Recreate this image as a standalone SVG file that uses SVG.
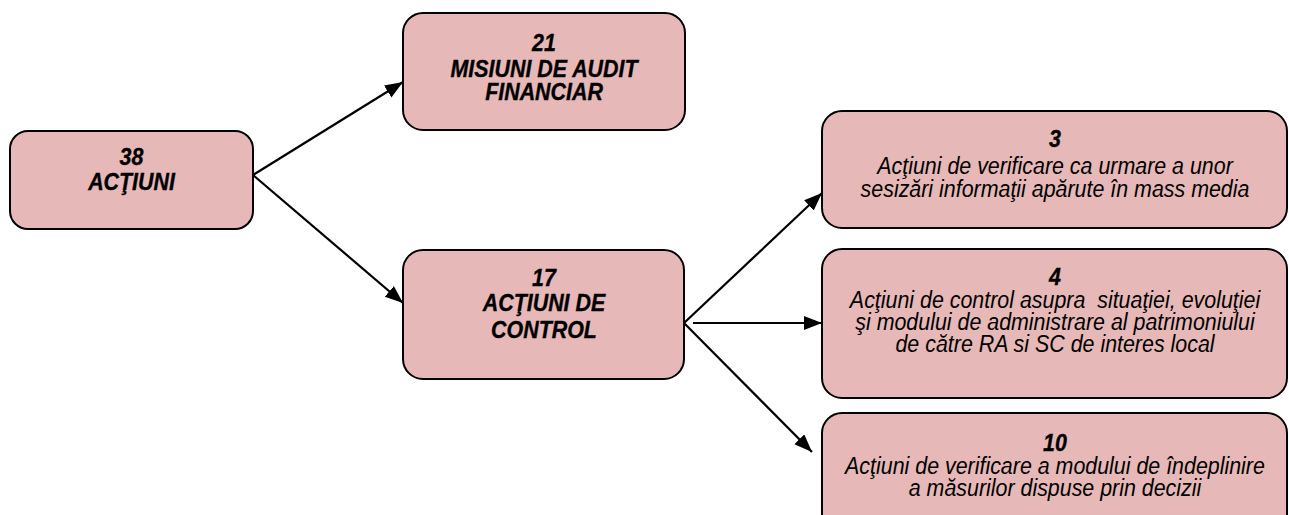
<svg xmlns="http://www.w3.org/2000/svg" width="1289" height="515" viewBox="0 0 1289 515">
<style>
.box{fill:#E6B8B7;stroke:#000;stroke-width:2}
.t{font-family:"Liberation Sans",Arial,sans-serif;font-size:21.4px;font-style:italic;text-anchor:middle;fill:#000;white-space:pre}
.b{font-weight:bold;stroke:#000;stroke-width:0.3}
.c{stroke:#000;stroke-width:2.2;fill:none;marker-end:url(#ah)}
</style>
<defs>
<marker id="ah" markerUnits="userSpaceOnUse" markerWidth="20" markerHeight="16" refX="18" refY="7" orient="auto">
<path d="M0,0 L18,7 L0,14 z" fill="#000"/>
</marker>
</defs>
<g id="connectors">
<line class="c" x1="253" y1="175" x2="403" y2="82"/>
<line class="c" x1="253" y1="175" x2="403" y2="303"/>
<line class="c" x1="684" y1="323" x2="822" y2="193"/>
<line class="c" x1="693" y1="323" x2="822" y2="323"/>
<line class="c" x1="684" y1="323" x2="812" y2="452"/>
</g>
<g id="n38">
<rect class="box" x="10" y="131" width="243" height="98" rx="18"/>
<text class="t b" transform="matrix(1,0,0,1.08,131.5,165)">38</text>
<text class="t b" transform="matrix(1,0,0,1.08,131.5,190)">ACŢIUNI</text>
</g>
<g id="n21">
<rect class="box" x="403" y="13" width="282" height="117" rx="20"/>
<text class="t b" transform="matrix(1,0,0,1.08,544,51)">21</text>
<text class="t b" transform="matrix(1,0,0,1.08,544,77)">MISIUNI DE AUDIT</text>
<text class="t b" transform="matrix(1,0,0,1.08,544,100)">FINANCIAR</text>
</g>
<g id="n17">
<rect class="box" x="403" y="250" width="281" height="129" rx="20"/>
<text class="t b" transform="matrix(1,0,0,1.08,544,286)">17</text>
<text class="t b" transform="matrix(1,0,0,1.08,544,311)">ACŢIUNI DE</text>
<text class="t b" transform="matrix(1,0,0,1.08,544,338)">CONTROL</text>
</g>
<g id="n3">
<rect class="box" x="822" y="111" width="465" height="117" rx="20"/>
<text class="t b" transform="matrix(1,0,0,1.08,1055,147)">3</text>
<text class="t" transform="matrix(1,0,0,1.08,1055,174)">Acţiuni de verificare ca urmare a unor</text>
<text class="t" transform="matrix(1,0,0,1.08,1055,197)">sesizări informaţii apărute în mass media</text>
</g>
<g id="n4">
<rect class="box" x="822" y="249" width="465" height="149" rx="20"/>
<text class="t b" transform="matrix(1,0,0,1.08,1055,285)">4</text>
<text class="t" transform="matrix(1,0,0,1.08,1055,308)">Acţiuni de control asupra  situaţiei, evoluţiei</text>
<text class="t" transform="matrix(1,0,0,1.08,1055,330)">şi modului de administrare al patrimoniului</text>
<text class="t" transform="matrix(1,0,0,1.08,1055,352)">de către RA si SC de interes local</text>
</g>
<g id="n10">
<rect class="box" x="822" y="413" width="465" height="125" rx="20"/>
<text class="t b" transform="matrix(1,0,0,1.08,1055,451)">10</text>
<text class="t" transform="matrix(1,0,0,1.08,1055,474)">Acţiuni de verificare a modului de îndeplinire</text>
<text class="t" transform="matrix(1,0,0,1.08,1055,496)">a măsurilor dispuse prin decizii</text>
</g>
</svg>
